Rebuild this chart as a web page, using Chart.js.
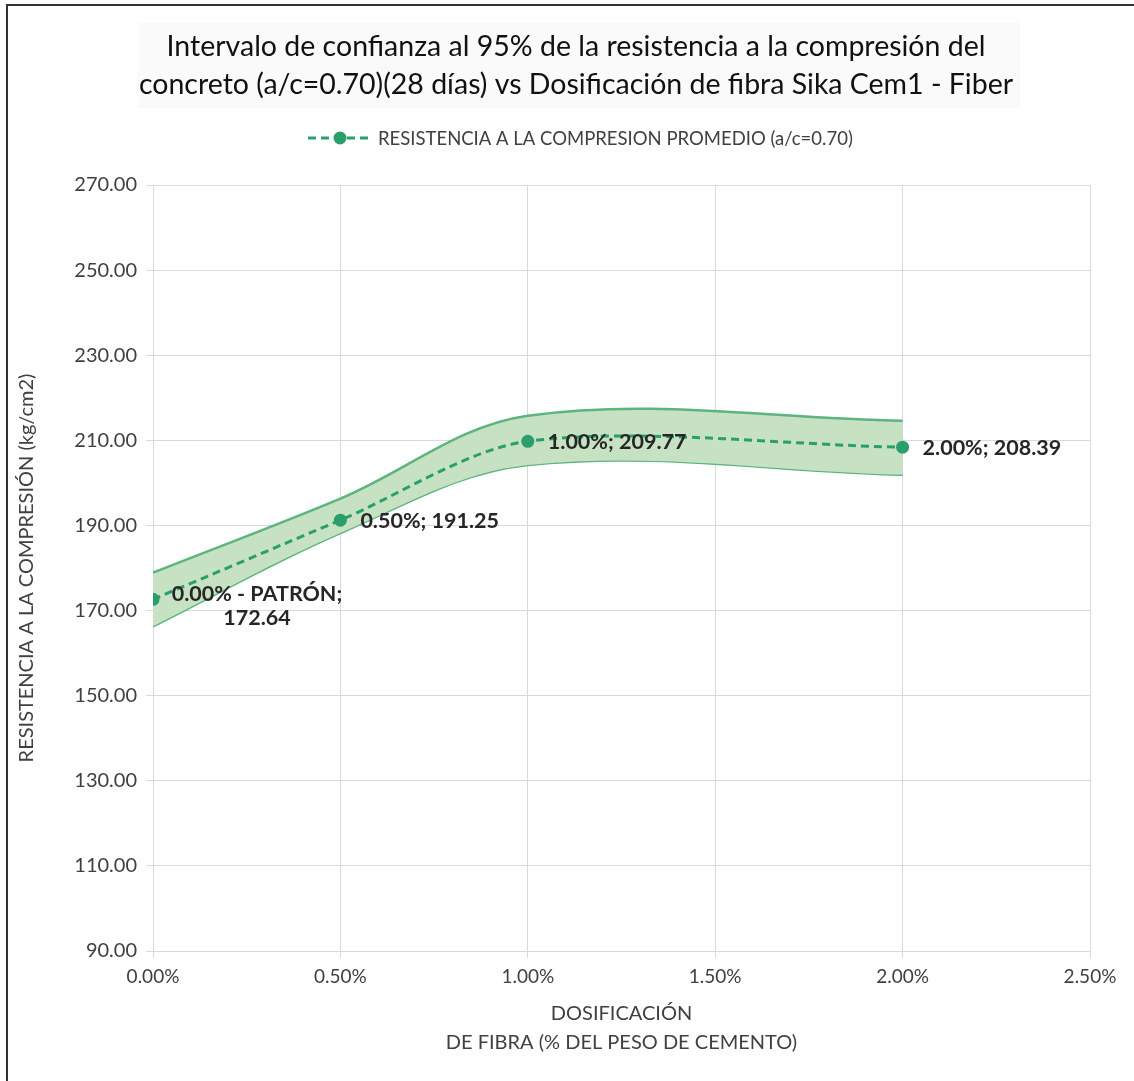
<!DOCTYPE html>
<html>
<head>
<meta charset="utf-8">
<script src="https://cdn.jsdelivr.net/npm/chart.js@4.4.0/dist/chart.umd.min.js"></script>
<style>
  body { margin: 0; background: #fff; }
  #marco { position: absolute; left: 6px; top: 4px; width: 1128px; height: 1077px;
           border-top: 2px solid #333; border-left: 2px solid #333; }
  #caja { position: absolute; left: 0; top: 0; width: 1134px; height: 1081px; }
</style>
</head>
<body>
<div id="caja"><canvas id="grafico" width="1134" height="1081"></canvas></div>
<div id="marco"></div>
<script>
// datos
const dosificacion = [0, 0.5, 1.0, 2.0];              // % del peso de cemento
const resistencia = [172.64, 191.25, 209.77, 208.39]; // kg/cm2 promedio
const limiteSuperior = [178.9, 196.3, 215.8, 214.6];   // IC 95% superior
const limiteInferior = [166.3, 188.2, 204.2, 201.9];   // IC 95% inferior
const sufijos = [' - PATRÓN;', ';', ';', ';'];
const ejeY = { min: 90, max: 270, paso: 20 };
const ejeX = { min: 0, max: 2.5, paso: 0.5 };

const titulo = [
  'Intervalo de confianza al 95% de la resistencia a la compresión del',
  'concreto (a/c=0.70)(28 días) vs Dosificación de fibra Sika Cem1 - Fiber'
];
const leyenda = 'RESISTENCIA A LA COMPRESION PROMEDIO (a/c=0.70)';

const verde = '#2A9F6C';
const verdeBanda = '#C6E2C2';
const verdeBorde = '#5DB47F';
const fuente = 'Lato, "Open Sans", sans-serif';

function puntos(ys) {
  return dosificacion.map((x, i) => ({ x: x, y: ys[i] }));
}

// titulo y leyenda dibujados a mano
const encabezado = {
  id: 'encabezado',
  beforeDraw(chart) {
    const c = chart.ctx;
    c.save();
    c.fillStyle = '#fafafa';
    c.fillRect(138, 22, 882, 86);
    c.fillStyle = '#111';
    c.font = '28.5px ' + fuente;
    c.textAlign = 'center';
    c.textBaseline = 'middle';
    c.fillText(titulo[0], 576, 47);
    c.fillText(titulo[1], 576, 85);

    // muestra de la leyenda
    c.strokeStyle = verde;
    c.lineWidth = 3;
    c.setLineDash([8, 5]);
    c.beginPath();
    c.moveTo(308, 138);
    c.lineTo(372, 138);
    c.stroke();
    c.setLineDash([]);
    c.fillStyle = verde;
    c.beginPath();
    c.arc(340, 138, 6.5, 0, Math.PI * 2);
    c.fill();
    c.fillStyle = '#404040';
    c.font = '18.5px ' + fuente;
    c.textAlign = 'left';
    c.fillText(leyenda, 378, 139);
    c.restore();
  }
};

// etiquetas de datos junto a cada punto
const etiquetas = {
  id: 'etiquetas',
  afterDatasetsDraw(chart) {
    const meta = chart.getDatasetMeta(0);
    const c = chart.ctx;
    c.save();
    c.fillStyle = '#262626';
    c.font = 'bold 21.5px ' + fuente;
    c.textBaseline = 'middle';
    meta.data.forEach((p, i) => {
      const txtX = dosificacion[i].toFixed(2) + '%' + sufijos[i];
      const txtY = resistencia[i].toFixed(2);
      if (i === 0) {
        c.textAlign = 'center';
        c.fillText(txtX, p.x + 104, p.y - 5);
        c.fillText(txtY, p.x + 104, p.y + 19);
      } else {
        c.textAlign = 'left';
        c.fillText(txtX + ' ' + txtY, p.x + 20, p.y + 1);
      }
    });
    c.restore();
  }
};

const ctx = document.getElementById('grafico').getContext('2d');
const grafico = new Chart(ctx, {
  type: 'line',
  data: {
    datasets: [{
      label: leyenda,
      data: puntos(resistencia),
      borderColor: verde,
      backgroundColor: verde,
      borderWidth: 3,
      borderDash: [8, 5],
      pointRadius: 6.5,
      pointHoverRadius: 6.5,
      pointBorderWidth: 0,
      tension: 0.3,
      fill: false
    }, {
      label: 'superior',
      data: puntos(limiteSuperior),
      borderColor: verdeBorde,
      backgroundColor: verdeBanda,
      borderWidth: 2.5,
      pointRadius: 0,
      tension: 0.35,
      fill: '+1'
    }, {
      label: 'inferior',
      data: puntos(limiteInferior),
      borderColor: verdeBorde,
      borderWidth: 2.5,
      pointRadius: 0,
      tension: 0.35,
      fill: false
    }]
  },
  options: {
    responsive: false,
    animation: false,
    layout: { padding: { top: 185, right: 44, left: 0, bottom: 0 } },
    plugins: {
      legend: { display: false },
      title: { display: false },
      tooltip: { enabled: false }
    },
    scales: {
      x: {
        type: 'linear',
        min: ejeX.min,
        max: ejeX.max,
        afterFit(scale) { scale.height = 130; },
        ticks: {
          stepSize: ejeX.paso,
          color: '#404040',
          font: { family: fuente, size: 19 },
          padding: 7,
          callback: v => v.toFixed(2) + '%'
        },
        grid: { color: '#D9D9D9', tickLength: 7 },
        border: { color: '#D9D9D9' },
        title: {
          display: true,
          text: ['DOSIFICACIÓN', 'DE FIBRA (% DEL PESO DE CEMENTO)'],
          color: '#404040',
          font: { family: fuente, size: 20, lineHeight: 1.45 },
          padding: { top: 0, bottom: 24 }
        }
      },
      y: {
        min: ejeY.min,
        max: ejeY.max,
        afterFit(scale) { scale.width = 153; },
        ticks: {
          stepSize: ejeY.paso,
          color: '#404040',
          font: { family: fuente, size: 20 },
          padding: 9,
          callback: v => v.toFixed(2)
        },
        grid: { color: '#D9D9D9', tickLength: 7 },
        border: { color: '#D9D9D9' },
        title: {
          display: true,
          text: 'RESISTENCIA A LA COMPRESIÓN (kg/cm2)',
          color: '#404040',
          font: { family: fuente, size: 20, lineHeight: 1.2 },
          padding: { top: 15, bottom: 0 }
        }
      }
    }
  },
  plugins: [encabezado, etiquetas]
});
</script>
</body>
</html>
